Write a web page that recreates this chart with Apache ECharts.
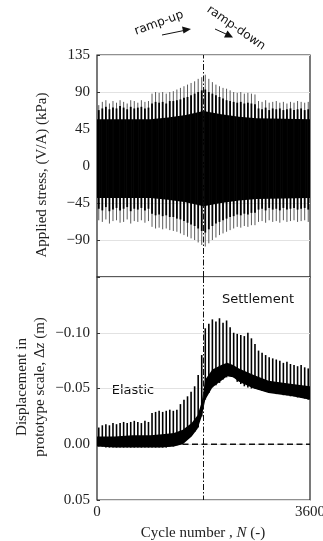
<!DOCTYPE html>
<html><head><meta charset="utf-8">
<script src="https://cdn.jsdelivr.net/npm/echarts@6/dist/echarts.min.js"></script>
<style>html,body{margin:0;padding:0;background:#fff}#c{width:323px;height:541px}</style>
</head><body><div id="c"></div>
<script>
// ---- data ----
const spikeN = [30,90,150,210,270,330,390,450,510,570,630,690,750,810,870,930,990,1050,1110,1170,1230,1290,1350,1410,1470,1530,1590,1650,1710,1770,1830,1890,1950,2010,2070,2130,2190,2250,2310,2370,2430,2490,2550,2610,2670,2730,2790,2850,2910,2970,3030,3090,3150,3210,3270,3330,3390,3450,3510,3570];
// applied stress (kPa): tall peaks per loading packet
const stressUp = [74,78,80,76,79,77,80,78,76,80,79,77,80,78,79, 88,90,89,90,88,90, 91,93,95,97,99,101, 103,106,108,111,106, 102,99,97,95,94,92,90, 89,90,88,89,88,87, 79,78,80,77,78,79,77,78,76,78,77,79,78,77,78];
const stressDown = [-66,-68,-65,-70,-67,-66,-69,-68,-65,-70,-67,-68,-66,-69,-67, -74,-76,-75,-77,-76,-78, -79,-80,-82,-84,-86,-88, -90,-93,-96,-98,-94, -90,-87,-84,-82,-80,-78,-76, -74,-75,-73,-74,-72,-72, -68,-67,-69,-66,-68,-67,-69,-66,-68,-67,-66,-68,-67,-66,-68];
// applied stress: dense (black) part of each packet
const stressMidUp = [68,70,72,69,71,70,73,71,69,72,70,71,72,70,71, 76,78,77,78,76,79, 79,80,81,83,84,86, 88,90,92,93,90, 88,86,84,82,80,79,78, 77,78,76,77,76,75, 70,69,71,68,70,69,70,68,69,70,68,69,70,68,69];
const stressMidDown = [-52,-54,-50,-55,-53,-51,-54,-52,-50,-55,-52,-53,-51,-54,-52, -58,-60,-59,-61,-60,-62, -62,-64,-65,-67,-69,-71, -73,-76,-79,-81,-77, -73,-70,-68,-66,-64,-62,-61, -59,-60,-58,-59,-57,-57, -53,-52,-54,-51,-53,-52,-54,-51,-53,-52,-51,-53,-52,-51,-53];
// applied stress: continuous core envelope
const coreN = [0,900,1200,1500,1800,2100,2400,2700,3600];
const coreTop = [57,57,59,62,67,63,60,58,57];
const coreBot = [-39,-39,-41,-44,-49,-45,-42,-40,-39];

// displacement (m): spike tips and bases per packet
const dispTip = [-0.015,-0.017,-0.018,-0.017,-0.019,-0.018,-0.019,-0.020,-0.019,-0.020,-0.021,-0.020,-0.019,-0.021,-0.020, -0.028,-0.029,-0.030,-0.029,-0.030,-0.031,-0.030,-0.031, -0.036,-0.040,-0.043,-0.047,-0.052, -0.062,-0.080, -0.104,-0.108,-0.112,-0.110,-0.113,-0.109,-0.111,-0.105, -0.100,-0.099,-0.098,-0.097,-0.100,-0.095,-0.090, -0.084,-0.082,-0.080,-0.078,-0.077, -0.076,-0.075,-0.073,-0.074,-0.072,-0.071,-0.070,-0.071,-0.069,-0.068];
const dispBase = [0.002,0.002,0.003,0.003,0.003,0.003,0.003,0.003,0.003,0.003,0.003,0.003,0.003,0.003,0.003, 0.003,0.003,0.003,0.003,0.003,0.002,0.002,0.001, 0.000,-0.002,-0.005,-0.008,-0.011, -0.015,-0.025, -0.040,-0.046,-0.051,-0.053,-0.055,-0.058,-0.060,-0.061, -0.060,-0.056,-0.054,-0.052,-0.051,-0.050,-0.050, -0.049,-0.048,-0.047,-0.046,-0.046, -0.045,-0.045,-0.044,-0.044,-0.043,-0.043,-0.042,-0.042,-0.041,-0.040];
// displacement: dense band
const bandN = [0,300,600,900,1100,1300,1450,1600,1700,1770,1830,1950,2100,2200,2300,2400,2650,2900,3300,3600];
const bandLow = [0.002,0.003,0.003,0.003,0.003,0.002,0.000,-0.007,-0.014,-0.025,-0.040,-0.051,-0.057,-0.061,-0.060,-0.056,-0.050,-0.046,-0.043,-0.040];
const bandHigh = [-0.007,-0.007,-0.008,-0.008,-0.009,-0.010,-0.013,-0.019,-0.026,-0.038,-0.058,-0.067,-0.071,-0.073,-0.071,-0.068,-0.062,-0.057,-0.054,-0.052];

const rampSplitN = 1800;
const xRange = [0, 3600];
const stressTicks = [-135, 135, 45];
const dispTicks = [-0.15, 0.05, 0.05];

// ---- rendering ----
const SERIF = '"Liberation Serif","Times New Roman",serif';
const SANS = '"DejaVu Sans",sans-serif';
const chart = echarts.init(document.getElementById('c'), null, {renderer: 'canvas'});

function spikeRender(color, width) {
  return function (params, api) {
    const p1 = api.coord([api.value(0), api.value(1)]);
    const p2 = api.coord([api.value(0), api.value(2)]);
    return {type: 'line', shape: {x1: p1[0], y1: p1[1], x2: p2[0], y2: p2[1]},
      style: {stroke: color, lineWidth: width}};
  };
}
function bandRender(Ns, lows, highs, color) {
  return function (params, api) {
    if (params.dataIndex !== 0) return null;
    const pts = [];
    for (let i = 0; i < Ns.length; i++) pts.push(api.coord([Ns[i], highs[i]]));
    for (let i = Ns.length - 1; i >= 0; i--) pts.push(api.coord([Ns[i], lows[i]]));
    return {type: 'polygon', shape: {points: pts}, style: {fill: color}};
  };
}
function vlineRender(dash, width) {
  return function (params, api) {
    const p1 = api.coord([api.value(0), api.value(1)]);
    const p2 = api.coord([api.value(0), api.value(2)]);
    return {type: 'line', shape: {x1: p1[0], y1: p1[1], x2: p2[0], y2: p2[1]},
      style: {stroke: '#111', lineWidth: width, lineDash: dash}};
  };
}
function hlineRender(dash, width) {
  return function (params, api) {
    const p1 = api.coord([api.value(0), api.value(2)]);
    const p2 = api.coord([api.value(1), api.value(2)]);
    return {type: 'line', shape: {x1: p1[0], y1: p1[1], x2: p2[0], y2: p2[1]},
      style: {stroke: '#111', lineWidth: width, lineDash: dash}};
  };
}
const minus = s => s.replace('-', '\u2212');

const option = {
  animation: false,
  backgroundColor: '#fff',
  grid: [
    {left: 97, top: 55, width: 213, height: 222, show: true, borderColor: '#222', borderWidth: 1.2, backgroundColor: 'transparent', containLabel: false, outerBoundsMode: 'none'},
    {left: 97, top: 277, width: 213, height: 223, show: true, borderColor: '#222', borderWidth: 1.2, backgroundColor: 'transparent', containLabel: false, outerBoundsMode: 'none'}
  ],
  xAxis: [
    {gridIndex: 0, type: 'value', min: xRange[0], max: xRange[1], interval: 3600,
      axisLine: {show: false}, axisTick: {show: false}, axisLabel: {show: false}, splitLine: {show: false}},
    {gridIndex: 1, type: 'value', min: xRange[0], max: xRange[1], interval: 3600,
      axisLine: {show: false}, axisTick: {show: false}, splitLine: {show: false},
      axisLabel: {show: true, margin: 5, fontFamily: SERIF, fontSize: 15, color: '#222', formatter: v => String(Math.round(v))}}
  ],
  yAxis: [
    {gridIndex: 0, type: 'value', min: stressTicks[0], max: stressTicks[1], interval: stressTicks[2],
      axisLine: {show: false}, axisTick: {show: true, inside: true, length: 3, lineStyle: {color: '#333'}},
      splitLine: {show: true, lineStyle: {color: '#e2e2e2', width: 1}},
      axisLabel: {margin: 7, fontFamily: SERIF, fontSize: 15, color: '#222',
        formatter: v => (Math.round(v) === -135 ? '' : minus(String(Math.round(v))))}},
    {gridIndex: 1, type: 'value', min: dispTicks[0], max: dispTicks[1], interval: dispTicks[2], inverse: true,
      axisLine: {show: false}, axisTick: {show: true, inside: true, length: 3, lineStyle: {color: '#333'}},
      splitLine: {show: true, lineStyle: {color: '#e2e2e2', width: 1}},
      axisLabel: {margin: 7, fontFamily: SERIF, fontSize: 15, color: '#222',
        formatter: v => { const r = Math.round(v * 100) / 100; return Math.abs(r + 0.15) < 1e-6 ? '' : minus(r.toFixed(2)); }}}
  ],
  series: [
    {type: 'custom', xAxisIndex: 0, yAxisIndex: 0, renderItem: bandRender(coreN, coreBot, coreTop, '#000'),
      data: coreN.map((n, i) => [n, coreBot[i], coreTop[i]]), encode: {x: 0, y: [1, 2]}, z: 2},
    {type: 'custom', xAxisIndex: 0, yAxisIndex: 0, renderItem: spikeRender('#5a5a5a', 1),
      data: spikeN.map((n, i) => [n, stressDown[i], stressUp[i]]), encode: {x: 0, y: [1, 2]}, z: 3},
    {type: 'custom', xAxisIndex: 0, yAxisIndex: 0, renderItem: spikeRender('#000', 1.8),
      data: spikeN.map((n, i) => [n, stressMidDown[i], stressMidUp[i]]), encode: {x: 0, y: [1, 2]}, z: 4},
    {type: 'custom', xAxisIndex: 0, yAxisIndex: 0, renderItem: vlineRender([6, 2, 1.5, 2], 1),
      data: [[rampSplitN, stressTicks[0], stressTicks[1]]], encode: {x: 0, y: [1, 2]}, z: 5},

    {type: 'custom', xAxisIndex: 1, yAxisIndex: 1, renderItem: hlineRender([6, 3.5], 1.5),
      data: [[xRange[0], xRange[1], 0]], encode: {x: [0, 1], y: 2}, z: 2},
    {type: 'custom', xAxisIndex: 1, yAxisIndex: 1, renderItem: bandRender(bandN, bandLow, bandHigh, '#000'),
      data: bandN.map((n, i) => [n, bandLow[i], bandHigh[i]]), encode: {x: 0, y: [1, 2]}, z: 3},
    {type: 'custom', xAxisIndex: 1, yAxisIndex: 1, renderItem: spikeRender('#000', 1.6),
      data: spikeN.map((n, i) => [n, dispBase[i], dispTip[i]]), encode: {x: 0, y: [1, 2]}, z: 4},
    {type: 'custom', xAxisIndex: 1, yAxisIndex: 1, renderItem: vlineRender([6, 2, 1.5, 2], 1),
      data: [[rampSplitN, dispTicks[0], dispTicks[1]]], encode: {x: 0, y: [1, 2]}, z: 5}
  ],
  graphic: [
    {type: 'text', x: 42, y: 175, rotation: Math.PI / 2,
      style: {text: 'Applied stress, (V/A) (kPa)', font: '15px ' + SERIF, fill: '#222', align: 'center', verticalAlign: 'middle'}},
    {type: 'text', x: 22, y: 387, rotation: Math.PI / 2,
      style: {text: 'Displacement in', font: '15px ' + SERIF, fill: '#222', align: 'center', verticalAlign: 'middle'}},
    {type: 'text', x: 40, y: 387, rotation: Math.PI / 2,
      style: {text: '{a|prototype scale, \u0394}{i|z}{a| (m)}', align: 'center', verticalAlign: 'middle',
        rich: {a: {font: '15px ' + SERIF, fill: '#222'}, i: {font: 'italic 15px ' + SERIF, fill: '#222'}}}},
    {type: 'text', x: 203, y: 533,
      style: {text: '{a|Cycle number , }{i|N}{a| (-)}', align: 'center', verticalAlign: 'middle',
        rich: {a: {font: '15px ' + SERIF, fill: '#222'}, i: {font: 'italic 15px ' + SERIF, fill: '#222'}}}},
    {type: 'text', x: 133, y: 391,
      style: {text: 'Elastic', font: '13px ' + SANS, fill: '#111', align: 'center', verticalAlign: 'middle'}},
    {type: 'text', x: 258, y: 300,
      style: {text: 'Settlement', font: '13px ' + SANS, fill: '#111', align: 'center', verticalAlign: 'middle'}},
    {type: 'text', x: 159, y: 23, rotation: 20 * Math.PI / 180,
      style: {text: 'ramp-up', font: '12px ' + SANS, fill: '#111', align: 'center', verticalAlign: 'middle'}},
    {type: 'text', x: 236, y: 28, rotation: -35 * Math.PI / 180,
      style: {text: 'ramp-down', font: '12px ' + SANS, fill: '#111', align: 'center', verticalAlign: 'middle'}},
    {type: 'line', shape: {x1: 162, y1: 35, x2: 184, y2: 30.5}, style: {stroke: '#111', lineWidth: 1}},
    {type: 'polygon', shape: {points: [[191, 29], [182, 26.5], [183.5, 33.5]]}, style: {fill: '#111'}},
    {type: 'line', shape: {x1: 215, y1: 29, x2: 226, y2: 34}, style: {stroke: '#111', lineWidth: 1}},
    {type: 'polygon', shape: {points: [[233, 37.5], [224, 37.5], [227.5, 30.5]]}, style: {fill: '#111'}}
  ]
};
chart.setOption(option);
</script>
</body></html>
